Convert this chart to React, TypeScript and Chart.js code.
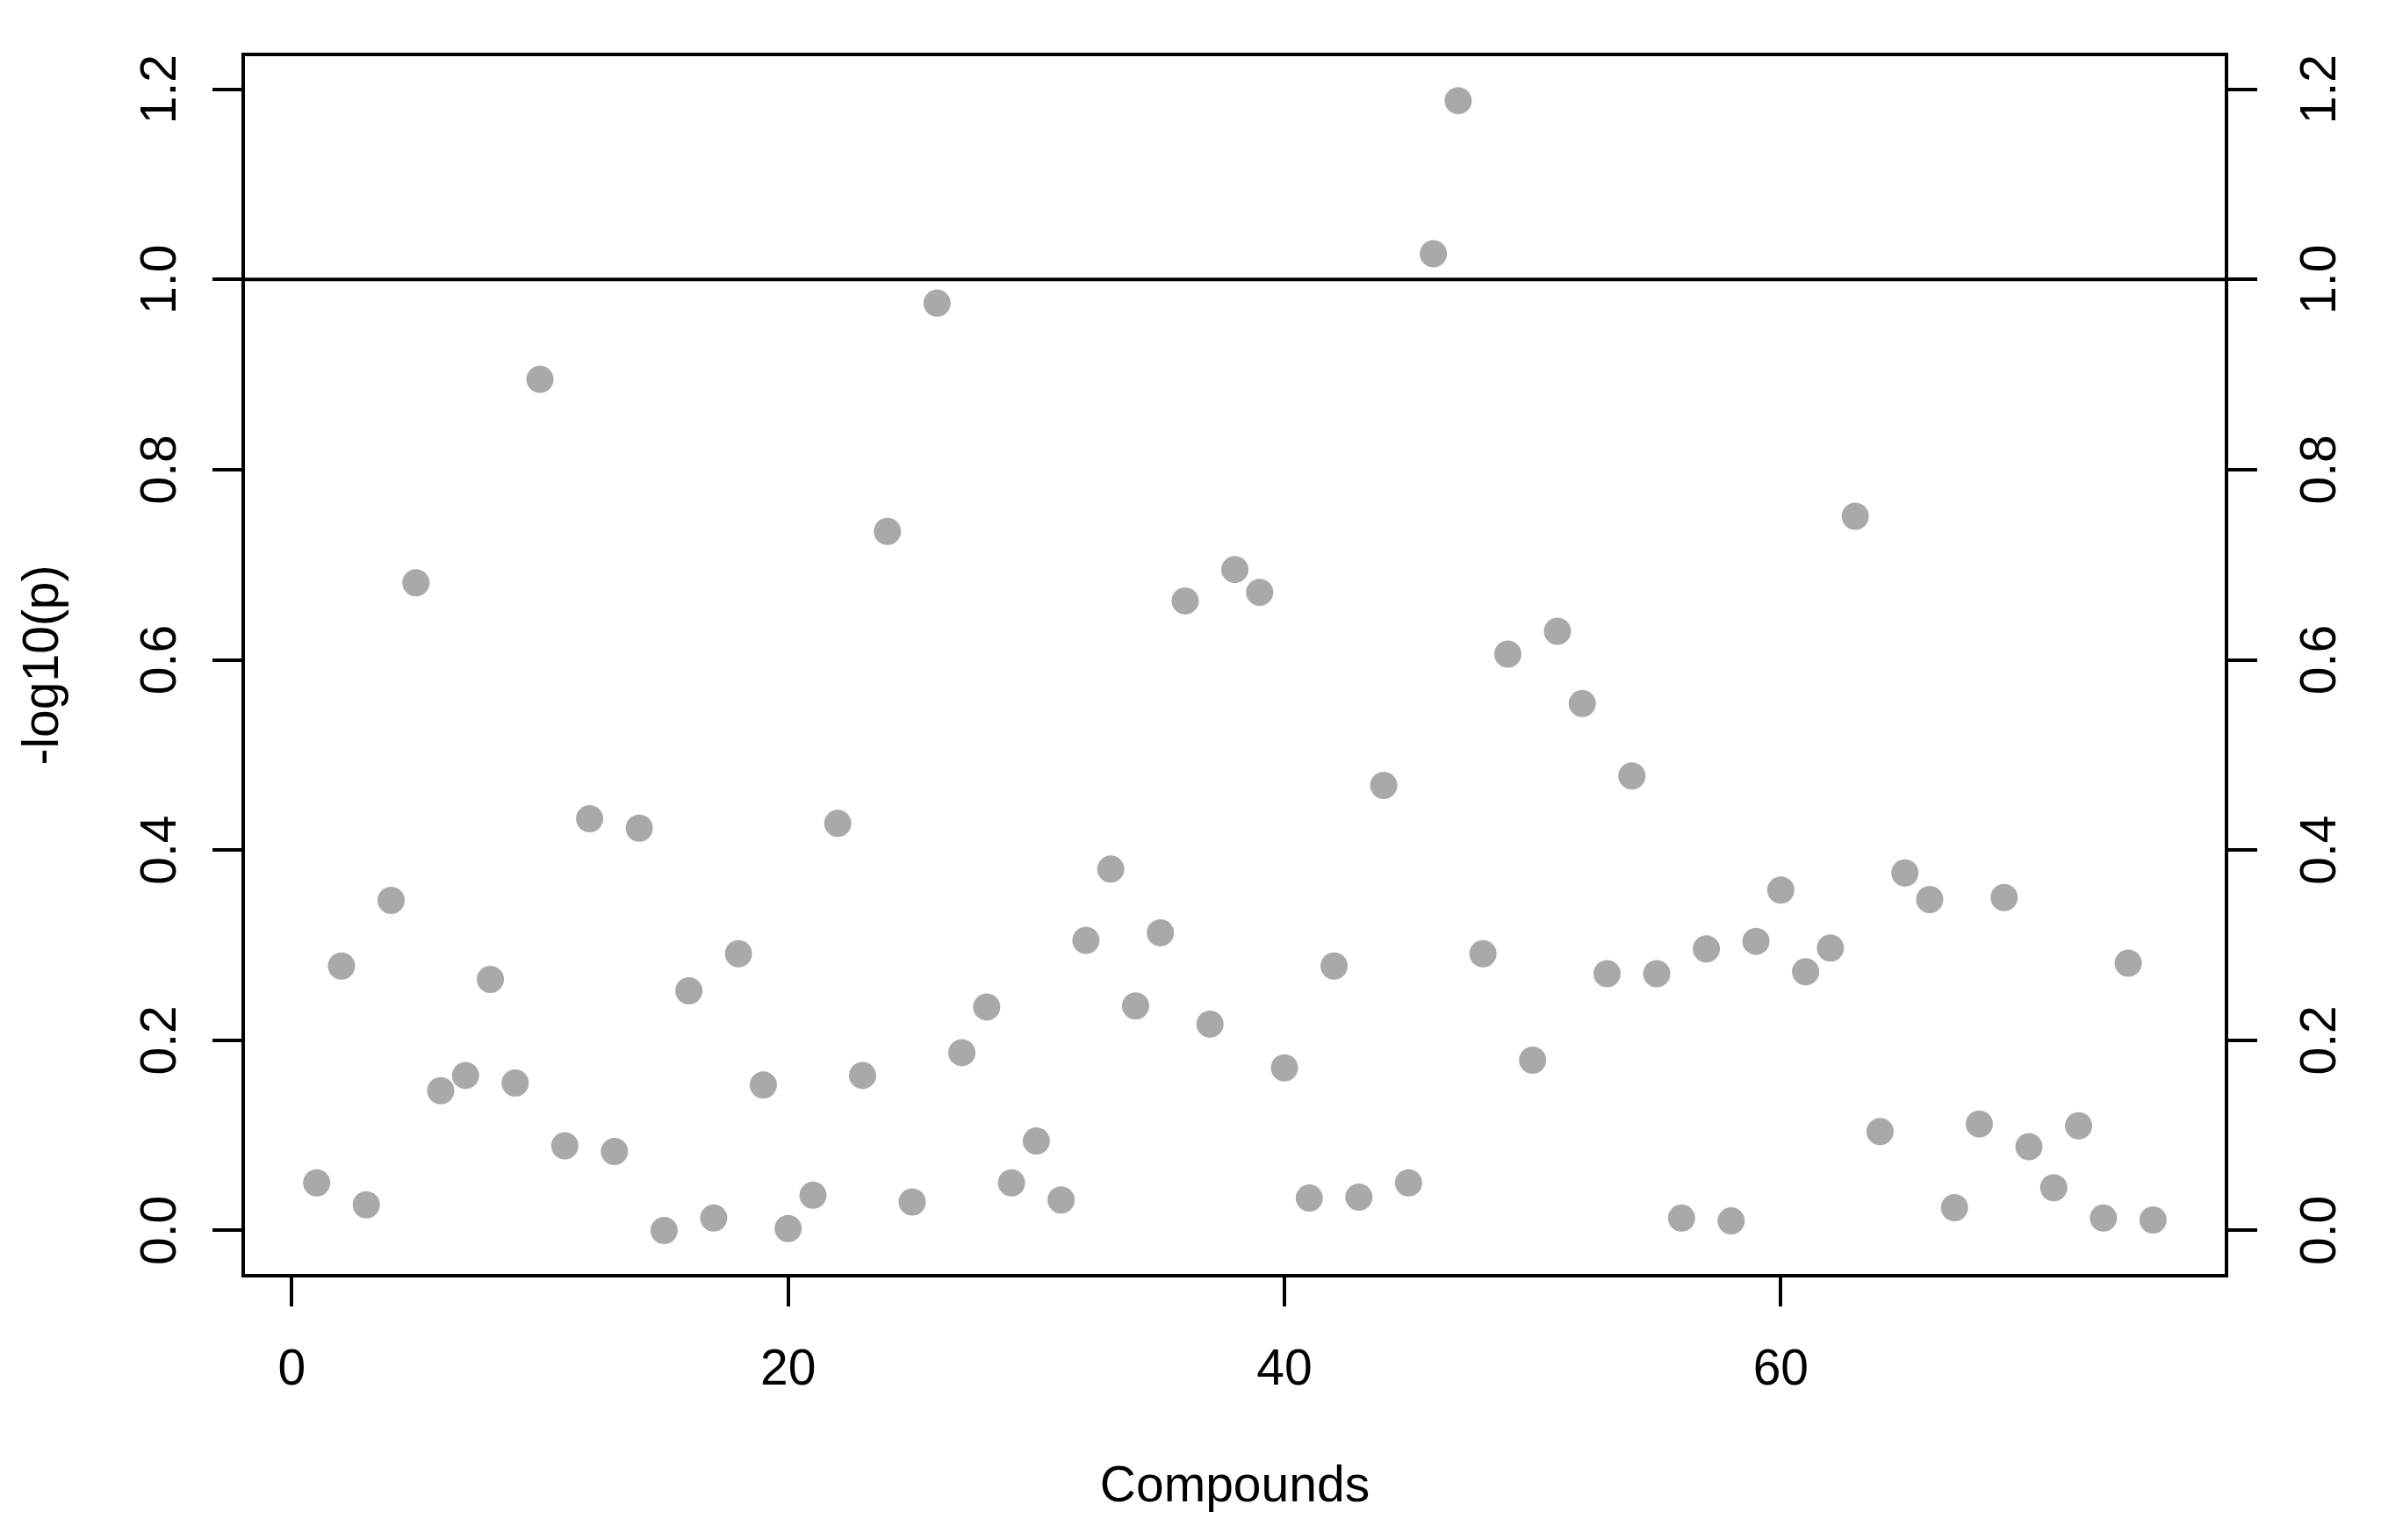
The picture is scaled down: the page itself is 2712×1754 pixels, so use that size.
import React, { useEffect, useRef } from "react";
import { Chart, registerables } from "chart.js";

Chart.register(...registerables);

// ---- data ----
const compoundIndex = [
  1, 2, 3, 4, 5, 6, 7, 8, 9, 10,
  11, 12, 13, 14, 15, 16, 17, 18, 19, 20,
  21, 22, 23, 24, 25, 26, 27, 28, 29, 30,
  31, 32, 33, 34, 35, 36, 37, 38, 39, 40,
  41, 42, 43, 44, 45, 46, 47, 48, 49, 50,
  51, 52, 53, 54, 55, 56, 57, 58, 59, 60,
  61, 62, 63, 64, 65, 66, 67, 68, 69, 70,
  71, 72, 73, 74, 75,
];

const negLog10P = [
  0.050, 0.278, 0.027, 0.347, 0.681, 0.147, 0.163, 0.264, 0.155, 0.895,
  0.089, 0.433, 0.083, 0.423, 0.000, 0.252, 0.013, 0.291, 0.153, 0.002,
  0.037, 0.428, 0.163, 0.735, 0.030, 0.975, 0.187, 0.235, 0.050, 0.094,
  0.032, 0.305, 0.380, 0.236, 0.313, 0.662, 0.217, 0.695, 0.671, 0.171,
  0.034, 0.278, 0.035, 0.468, 0.050, 1.027, 1.188, 0.291, 0.606, 0.179,
  0.630, 0.554, 0.270, 0.478, 0.270, 0.013, 0.296, 0.010, 0.304, 0.358,
  0.272, 0.297, 0.751, 0.104, 0.376, 0.348, 0.024, 0.112, 0.350, 0.088,
  0.045, 0.110, 0.013, 0.281, 0.011,
];

const xTickValues = [0, 20, 40, 60];
const yTickValues = [0, 0.2, 0.4, 0.6, 0.8, 1.0, 1.2];
const thresholdValue = 1.0;
const xLimits = [-1.96, 77.96];
const yLimits = [-0.0476, 1.2366];
const xAxisTitle = "Compounds";
const yAxisTitle = "-log10(p)";

// ---- styling ----
const FONT = { family: "'Liberation Sans', Arial, Helvetica, sans-serif", size: 57 };
const INK = "#000000";
const POINT_COLOR = "#a9a9a9";
const LINE_W = 4;
const TICK_LEN = 35;

const boxPlugin = {
  id: "rBox",
  afterDraw(chart: any) {
    const { ctx, chartArea } = chart;
    ctx.save();
    ctx.strokeStyle = INK;
    ctx.lineWidth = LINE_W;
    ctx.strokeRect(
      chartArea.left,
      chartArea.top,
      chartArea.right - chartArea.left,
      chartArea.bottom - chartArea.top
    );
    ctx.restore();
  },
};

export default function App() {
  const canvasRef = useRef<HTMLCanvasElement | null>(null);

  useEffect(() => {
    const canvas = canvasRef.current;
    if (!canvas) return;

    const tickGrid = {
      display: true,
      drawOnChartArea: false,
      drawTicks: true,
      tickLength: TICK_LEN,
      tickWidth: LINE_W,
      tickColor: INK,
      color: INK,
      lineWidth: LINE_W,
    };

    const yTicksCommon = {
      minRotation: 90,
      maxRotation: 90,
      crossAlign: "center" as const,
      autoSkip: false,
      color: INK,
      font: FONT,
      callback: (v: any) => Number(v).toFixed(1),
    };

    const chart = new Chart(canvas, {
      type: "scatter",
      data: {
        datasets: [
          {
            type: "scatter",
            label: yAxisTitle,
            data: compoundIndex.map((x, i) => ({ x, y: negLog10P[i] })),
            backgroundColor: POINT_COLOR,
            borderWidth: 0,
            pointRadius: 15.5,
            pointHoverRadius: 15.5,
            xAxisID: "x",
            yAxisID: "y",
          },
          {
            type: "line",
            label: "threshold",
            data: [
              { x: xLimits[0], y: thresholdValue },
              { x: xLimits[1], y: thresholdValue },
            ],
            borderColor: INK,
            borderWidth: LINE_W,
            pointRadius: 0,
            fill: false,
            xAxisID: "x",
            yAxisID: "y",
          } as any,
        ],
      },
      options: {
        animation: false,
        responsive: false,
        devicePixelRatio: 1,
        layout: { padding: { top: 62, left: 0, right: 0, bottom: 0 } },
        plugins: {
          legend: { display: false },
          tooltip: { enabled: false },
          title: { display: false },
        },
        scales: {
          x: {
            type: "linear",
            position: "bottom",
            min: xLimits[0],
            max: xLimits[1],
            afterBuildTicks: (s: any) => {
              s.ticks = xTickValues.map((v) => ({ value: v }));
            },
            afterFit: (s: any) => {
              s.height = 301;
              s.paddingLeft = 0;
              s.paddingRight = 0;
            },
            grid: tickGrid,
            border: { display: false },
            ticks: {
              minRotation: 0,
              maxRotation: 0,
              autoSkip: false,
              padding: 39,
              color: INK,
              font: FONT,
              callback: (v: any) => String(v),
            },
            title: {
              display: true,
              text: xAxisTitle,
              color: INK,
              font: FONT,
              padding: { top: 26, bottom: 26 },
            },
          },
          y: {
            type: "linear",
            position: "left",
            min: yLimits[0],
            max: yLimits[1],
            afterBuildTicks: (s: any) => {
              s.ticks = yTickValues.map((v) => ({ value: v }));
            },
            afterFit: (s: any) => {
              s.width = 277;
              s.paddingTop = 0;
              s.paddingBottom = 0;
            },
            grid: tickGrid,
            border: { display: false },
            ticks: { ...yTicksCommon, padding: 18 },
            title: {
              display: true,
              text: yAxisTitle,
              color: INK,
              font: FONT,
              padding: { top: 16, bottom: 16 },
            },
          },
          y2: {
            type: "linear",
            position: "right",
            min: yLimits[0],
            max: yLimits[1],
            afterBuildTicks: (s: any) => {
              s.ticks = yTickValues.map((v) => ({ value: v }));
            },
            afterFit: (s: any) => {
              s.width = 176;
              s.paddingTop = 0;
              s.paddingBottom = 0;
            },
            grid: tickGrid,
            border: { display: false },
            ticks: { ...yTicksCommon, padding: 34 },
          },
        },
      },
      plugins: [boxPlugin],
    });

    return () => chart.destroy();
  }, []);

  return (
    <div
      style={{
        position: "absolute",
        left: 0,
        top: 0,
        width: 2712,
        height: 1754,
        background: "#ffffff",
      }}
    >
      <canvas
        ref={canvasRef}
        width={2712}
        height={1754}
        style={{ display: "block", width: 2712, height: 1754 }}
      />
    </div>
  );
}
